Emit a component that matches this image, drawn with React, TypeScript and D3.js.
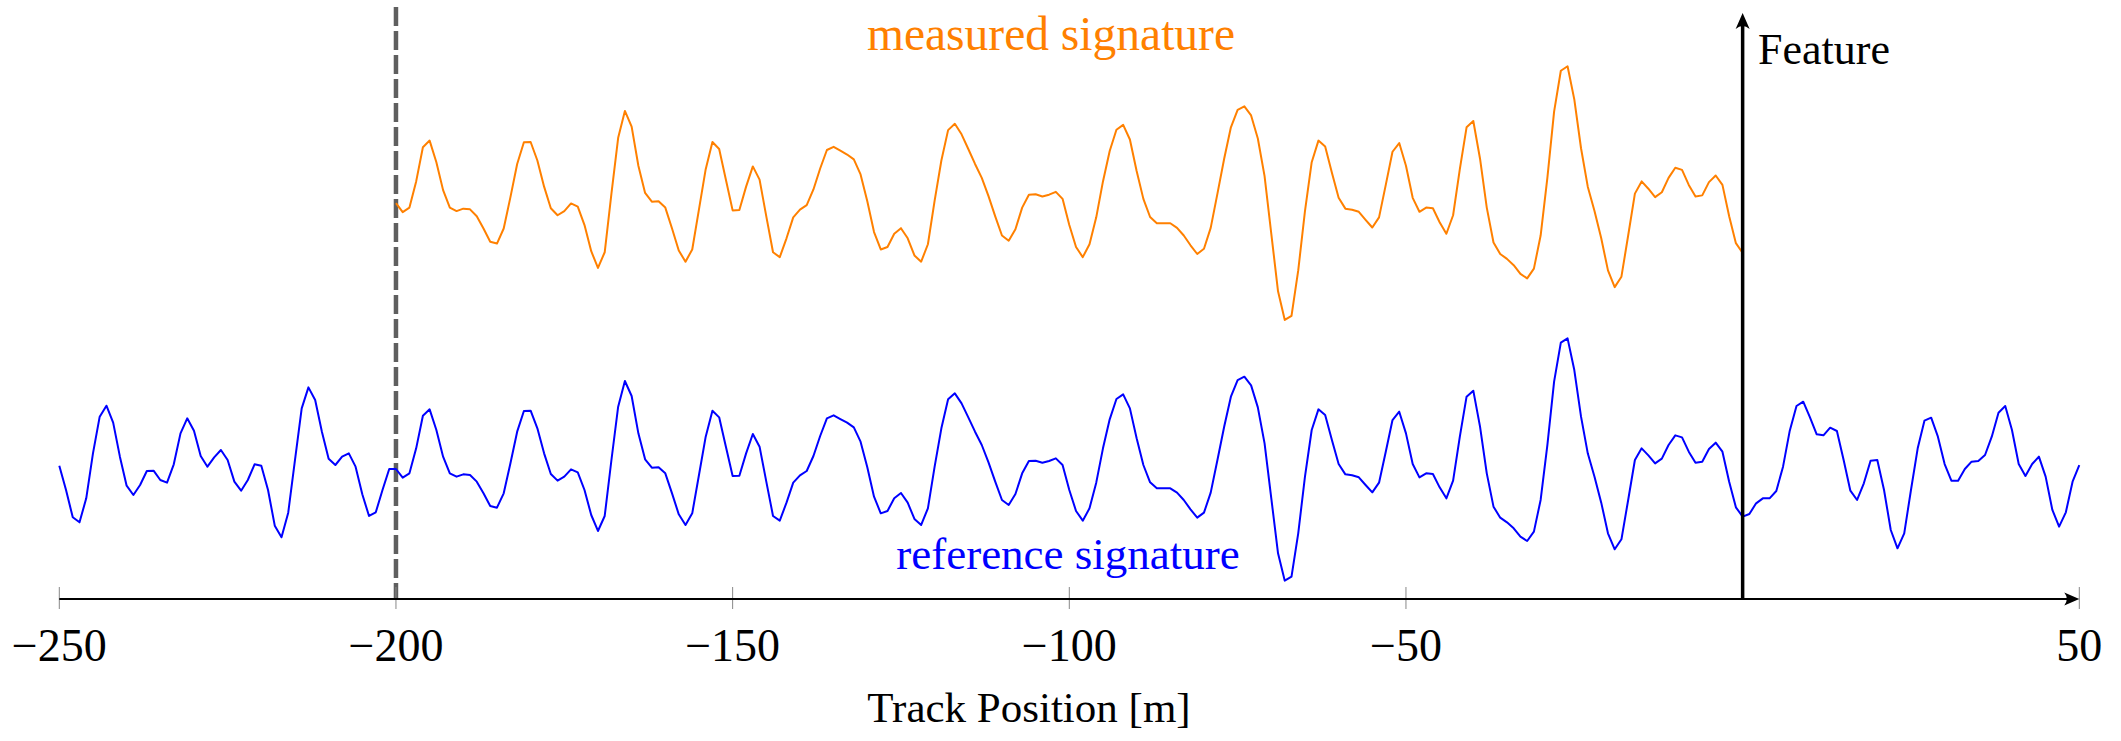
import React, { useEffect, useRef } from "react";
import * as d3 from "d3";

// signature sampled every metre along the track
const trackStart = -250;
const trackEnd = 50;
const measuredFrom = -200;
const measuredTo = 0;
const featureAt = 0;

// reference signature (arbitrary units), one value per metre from -250 to 50
const referenceSignature = [
  1.3, -6, -14.2, -15.7, -8.5, 5, 16, 19.3, 14.2, 4,
  -4.7, -7.5, -4.5, -0.3, -0.2, -3, -3.8, 1.7, 11, 15.5,
  11.8, 4.2, 1, 3.8, 6, 3, -3.5, -6.2, -3, 1.7,
  1.3, -6, -16.7, -20.2, -12.8, 3, 18.5, 24.8, 21, 11.5,
  3.4, 1.5, 4, 5, 1, -7.3, -13.8, -12.7, -6, 0.3,
  0.3, -2.3, -1, 6.5, 16.3, 18.2, 12, 4, -1, -2,
  -1.3, -1.5, -3.5, -7, -10.8, -11.3, -7, 2, 11.5, 17.7,
  17.8, 12.5, 5, -1.2, -3.2, -2, 0.2, -0.7, -6, -13.5,
  -18.3, -13.8, 3, 19, 26.7, 22.2, 11, 3.2, 0.7, 0.8,
  -1, -7, -13.3, -16.5, -13, -1.5, 10, 17.8, 15.8, 7,
  -1.8, -1.7, 5, 10.8, 7, -3.5, -13.8, -15.2, -9.8, -3.8,
  -1.6, -0.3, 4.2, 10.2, 15.5, 16.4, 15.3, 14.2, 12.8, 8.5,
  0.8, -8, -13, -12.3, -8.5, -6.9, -9.8, -14.7, -16.5, -11.5,
  1, 12.5, 21.2, 23, 20, 15.8, 11.5, 7.5, 2.3, -3.5,
  -9, -10.5, -7.2, -1, 2.7, 2.8, 2.2, 2.7, 3.5, 1.5,
  -6, -12.3, -15.2, -11.5, -3.8, 6.5, 15.2, 21.3, 22.7, 18.5,
  9.5, 1.5, -3.7, -5.5, -5.5, -5.5, -6.8, -9, -11.8, -14.3,
  -12.8, -6.8, 3, 13, 22, 27, 28, 25.4, 18.8, 8,
  -8.5, -25, -33.2, -32, -19, -2, 12, 18.2, 16.5, 9,
  1.8, -1.3, -1.6, -2.2, -4.5, -6.7, -3.8, 5.5, 15, 17.5,
  11, 1.8, -2.2, -1, -1.2, -5.2, -8.5, -3.2, 10, 22,
  23.8, 13, -1, -11, -14.3, -15.7, -17.5, -20, -21.3, -18.5,
  -9, 7.5, 26.5, 38.2, 39.5, 30, 16, 5, -2, -9.8,
  -19, -23.8, -20.8, -9, 3, 6.5, 4.4, 2, 3.4, 7.5,
  10.4, 9.8, 5.5, 2.2, 2.5, 6.3, 8.2, 5.5, -3.5, -11.2,
  -14, -13.2, -10, -8.5, -8.5, -6.3, 1, 11.8, 19.2, 20.5,
  15.8, 10.7, 10.4, 12.7, 11.7, 3, -6.2, -9, -4, 2.8,
  3, -6, -18, -23.5, -19, -6, 6.5, 14.8, 15.7, 10,
  1.8, -3.2, -3.2, 0.3, 2.5, 2.7, 4.5, 10, 17.2, 19.2,
  12, 1.8, -1.8, 1.8, 4, -2, -12, -17, -12.7, -3.5,
  1.5,
];

const tickValues = [-250, -200, -150, -100, -50, 50];
const tickLabels = ["\u2212250", "\u2212200", "\u2212150", "\u2212100", "\u221250", "50"];

const W = 2121;
const H = 741;
const serif = "'Liberation Serif', 'DejaVu Serif', serif";

const App = () => {
  const svgRef = useRef<SVGSVGElement | null>(null);

  useEffect(() => {
    const svg = d3.select(svgRef.current);
    svg.selectAll("*").remove();

    const positions = d3.range(trackStart, trackEnd + 1);
    const reference = positions.map((p, i) => ({ x: p, v: referenceSignature[i] }));
    const measured = reference.filter((d) => d.x >= measuredFrom && d.x <= measuredTo);

    const x = d3.scaleLinear().domain([trackStart, trackEnd]).range([59.3, 2079.3]);
    // two stacked panels: reference below, measured above
    const yRef = d3.scaleLinear().domain([-40, 40]).range([603.3, 336.7]);
    const yMeas = d3.scaleLinear().domain([-40, 40]).range([343.7, 64.5]);
    const axisY = 599;

    // dashed marker at start of measurement
    svg.append("line")
      .attr("x1", x(measuredFrom))
      .attr("x2", x(measuredFrom))
      .attr("y1", 7)
      .attr("y2", axisY)
      .attr("stroke", "#5f5f5f")
      .attr("stroke-width", 4.5)
      .attr("stroke-dasharray", "19,5");

    // ticks
    svg.append("g")
      .selectAll("line")
      .data(tickValues)
      .join("line")
      .attr("x1", (d) => x(d))
      .attr("x2", (d) => x(d))
      .attr("y1", axisY - 12)
      .attr("y2", axisY + 10)
      .attr("stroke", "#888")
      .attr("stroke-width", 1);

    // x axis
    svg.append("line")
      .attr("x1", x(trackStart))
      .attr("x2", x(trackEnd) - 4)
      .attr("y1", axisY)
      .attr("y2", axisY)
      .attr("stroke", "#000")
      .attr("stroke-width", 2);
    svg.append("path")
      .attr("d", "M0,0 L-15,-6.5 Q-10,0 -15,6.5 Z")
      .attr("transform", `translate(${x(trackEnd)},${axisY})`)
      .attr("fill", "#000");

    svg.append("g")
      .selectAll("text")
      .data(tickValues)
      .join("text")
      .attr("x", (d) => x(d))
      .attr("y", 661)
      .attr("text-anchor", "middle")
      .style("font-family", serif)
      .style("font-size", "46px")
      .text((d, i) => tickLabels[i]);

    svg.append("text")
      .attr("x", 1029)
      .attr("y", 722)
      .attr("text-anchor", "middle")
      .style("font-family", serif)
      .style("font-size", "43px")
      .text("Track Position [m]");

    const lineRef = d3.line<{ x: number; v: number }>().x((d) => x(d.x)).y((d) => yRef(d.v));
    const lineMeas = d3.line<{ x: number; v: number }>().x((d) => x(d.x)).y((d) => yMeas(d.v));

    svg.append("path")
      .datum(reference)
      .attr("d", lineRef)
      .attr("fill", "none")
      .attr("stroke", "#0000ff")
      .attr("stroke-width", 2)
      .attr("stroke-linejoin", "round");

    svg.append("path")
      .datum(measured)
      .attr("d", lineMeas)
      .attr("fill", "none")
      .attr("stroke", "#ff8000")
      .attr("stroke-width", 2)
      .attr("stroke-linejoin", "round");

    // feature arrow
    svg.append("line")
      .attr("x1", x(featureAt))
      .attr("x2", x(featureAt))
      .attr("y1", axisY)
      .attr("y2", 20)
      .attr("stroke", "#000")
      .attr("stroke-width", 3.5);
    svg.append("path")
      .attr("d", "M0,0 L-7,16 Q0,10 7,16 Z")
      .attr("transform", `translate(${x(featureAt)},13)`)
      .attr("fill", "#000");

    svg.append("text")
      .attr("x", 1758)
      .attr("y", 64)
      .style("font-family", serif)
      .style("font-size", "44px")
      .text("Feature");

    svg.append("text")
      .attr("x", 1051)
      .attr("y", 50)
      .attr("text-anchor", "middle")
      .attr("fill", "#ff8000")
      .style("font-family", serif)
      .style("font-size", "47.5px")
      .text("measured signature");

    svg.append("text")
      .attr("x", 1068)
      .attr("y", 569)
      .attr("text-anchor", "middle")
      .attr("fill", "#0000ff")
      .style("font-family", serif)
      .style("font-size", "45px")
      .text("reference signature");
  }, []);

  return (
    <svg
      ref={svgRef}
      width={W}
      height={H}
      style={{ position: "absolute", left: 0, top: 0, background: "#fff" }}
    />
  );
};

export default App;
